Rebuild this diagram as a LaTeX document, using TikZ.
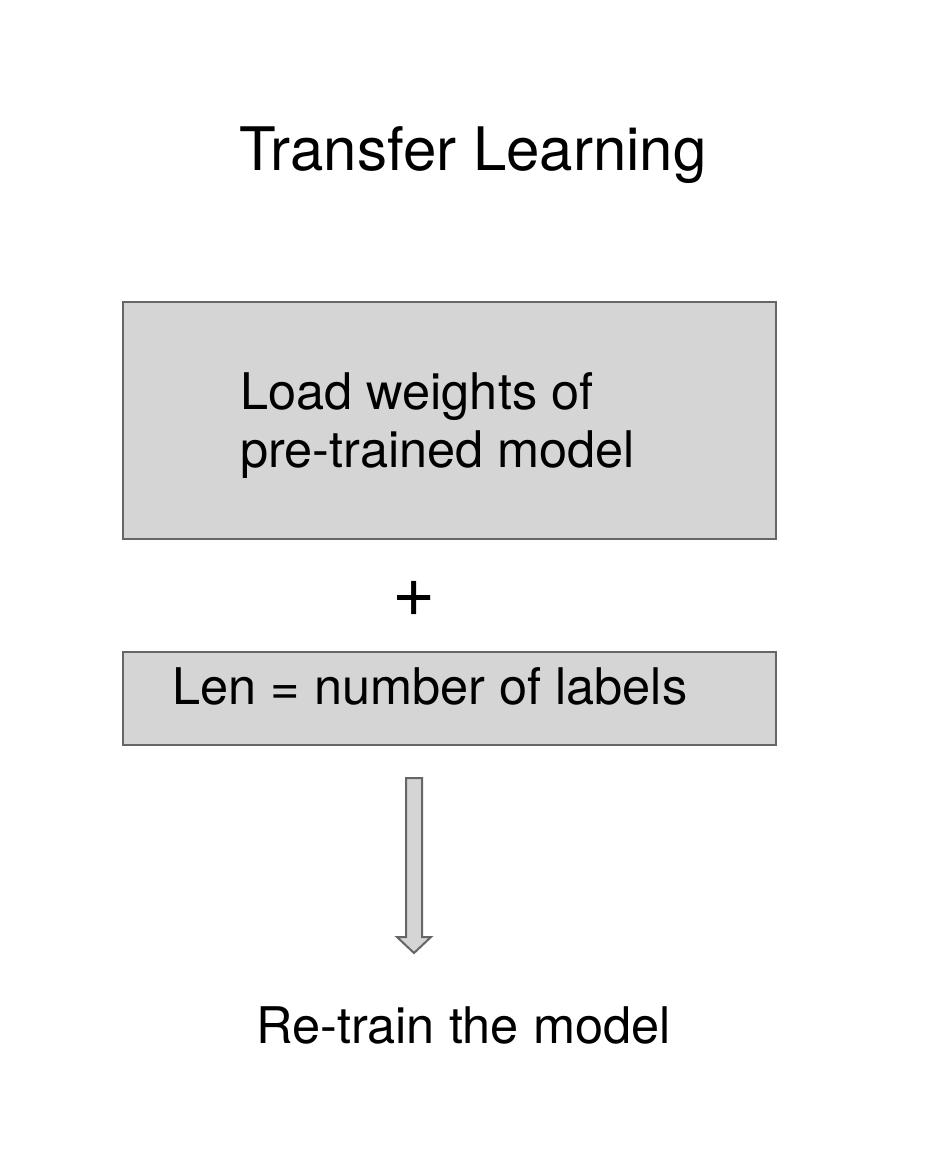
\documentclass[tikz,border=0pt]{standalone}
\usepackage{fontspec}
\setmainfont{TeX Gyre Heros}
\begin{document}
\begin{tikzpicture}[x=1pt,y=-1pt,
  box/.style={draw=boxline,fill=boxfill,line width=2pt},
  txt/.style={inner sep=0pt,anchor=base west,font=\fontsize{50.5}{58}\selectfont},
]
\definecolor{boxfill}{HTML}{D5D5D5}
\definecolor{boxline}{HTML}{666666}
\useasboundingbox (0,0) rectangle (944,1176);
\node[inner sep=0pt,anchor=base,font=\fontsize{60}{70}\selectfont] (title) at (473,170) {Transfer Learning};
\draw[box] (123,302) rectangle (776,539);
\node[txt] (l1) at (240,409) {Load weights of};
\node[txt] (l2) at (240,467) {pre-trained model};
\node[inner sep=0pt,font=\fontsize{74}{74}\selectfont] (plus) at (414,599) {+};
\draw[box] (123,652) rectangle (776,745);
\node[txt] (len) at (172,704) {Len = number of labels};
\draw[box,line join=miter] (406,778) -- (422,778) -- (422,937) -- (431,937) -- (414,953) -- (397,937) -- (406,937) -- cycle;
\node[txt] (rt) at (256,1043) {Re-train the model};
\end{tikzpicture}
\end{document}
